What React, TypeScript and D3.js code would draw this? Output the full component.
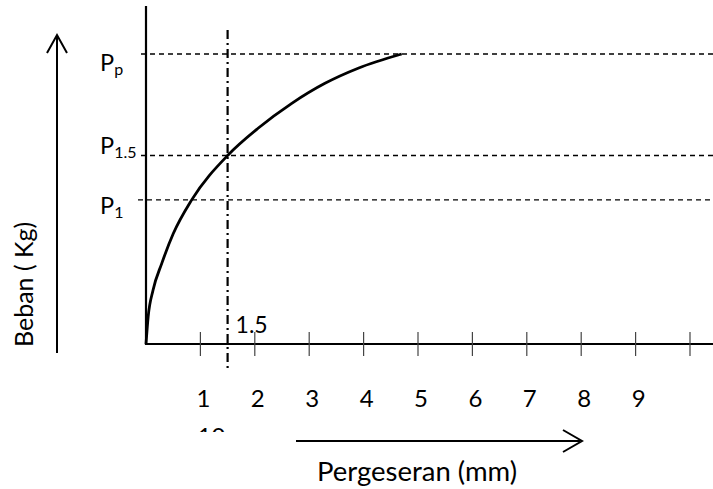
import React from "react";
import * as d3 from "d3";

// Data
const displacement = [0, 0.04, 0.13, 0.29, 0.5, 0.84, 1.51, 2.06, 2.68, 3.29, 3.9, 4.7];
const load = [0, 9.4, 18.6, 27.8, 38.0, 49.7, 65.2, 74.4, 83.0, 89.9, 95.1, 100];
const tickValues = [1, 2, 3, 4, 5, 6, 7, 8, 9, 10];
const tickLabels = ["1", "2", "3", "4", "5", "6", "7", "8", "9"];
const clippedLabel = "10";
const refLevels = [
  { main: "P", sub: "p", value: 100 },
  { main: "P", sub: "1.5", value: 65.0 },
  { main: "P", sub: "1", value: 49.7 },
];
const refX = 1.5;
const refXLabel = "1.5";
const xTitle = "Pergeseran (mm)";
const yTitle = "Beban ( Kg)";

const W = 713;
const H = 489;
const FONT = "Lato, 'Open Sans', sans-serif";

export default function App() {
  const x = d3.scaleLinear().domain([0, 10]).range([146, 690]);
  const y = d3.scaleLinear().domain([0, 100]).range([344, 54]);
  const pts = displacement.map((d, i) => [d, load[i]] as [number, number]);
  const line = d3
    .line<[number, number]>()
    .x((d) => x(d[0]))
    .y((d) => y(d[1]))
    .curve(d3.curveMonotoneX);

  const axisY = y(0);
  const axisX = x(0);

  return (
    <svg
      width={W}
      height={H}
      style={{ position: "absolute", left: 0, top: 0, background: "#fff" }}
      fontFamily={FONT}
    >
      <defs>
        <clipPath id="clipTen">
          <rect x={0} y={0} width={W} height={432} />
        </clipPath>
      </defs>
      <rect width={W} height={H} fill="#fff" />

      {/* reference dashed horizontal lines */}
      {refLevels.map((r, i) => (
        <line
          key={"h" + i}
          x1={axisX - 5 - (i === 2 ? 3 : 0)}
          x2={W}
          y1={y(r.value)}
          y2={y(r.value)}
          stroke="#000"
          strokeWidth={1.3}
          strokeDasharray="5 4"
        />
      ))}

      {/* dash-dot vertical line at 1.5 mm */}
      <line
        x1={x(refX)}
        x2={x(refX)}
        y1={30}
        y2={368}
        stroke="#000"
        strokeWidth={2.2}
        strokeDasharray="9 4 2 4"
      />

      {/* axes */}
      <line x1={axisX} x2={axisX} y1={6} y2={axisY + 1} stroke="#000" strokeWidth={2.2} />
      <line x1={axisX - 1} x2={W} y1={axisY} y2={axisY} stroke="#000" strokeWidth={2} />
      {tickValues.map((t) => (
        <line
          key={"t" + t}
          x1={x(t)}
          x2={x(t)}
          y1={axisY - 12}
          y2={axisY + 12}
          stroke="#444"
          strokeWidth={1.2}
        />
      ))}
      {tickLabels.map((l, i) => (
        <text
          key={"l" + i}
          x={x(tickValues[i]) + 3}
          y={407}
          textAnchor="middle"
          fontSize={24}
          fill="#000"
        >
          {l}
        </text>
      ))}
      <g clipPath="url(#clipTen)">
        <text x={x(1) + 11} y={445} textAnchor="middle" fontSize={24} fill="#000">
          {clippedLabel}
        </text>
      </g>

      {/* curve */}
      <path d={line(pts) || ""} fill="none" stroke="#000" strokeWidth={2.8} strokeLinejoin="round" />

      {/* 1.5 label */}
      <text x={x(refX) + 8} y={333} fontSize={23} fill="#000">
        {refXLabel}
      </text>

      {/* P labels */}
      {refLevels.map((r, i) => (
        <text key={"p" + i} x={100} y={y(r.value) + (i === 0 ? 17 : i === 1 ? -2 : 14)} fontSize={23.5} fill="#000">
          {r.main}
          <tspan fontSize={16} dy={4}>
            {r.sub}
          </tspan>
        </text>
      ))}

      {/* y arrow and title */}
      <line x1={57} x2={57} y1={353} y2={36} stroke="#000" strokeWidth={2} />
      <polyline points="47,53 57,35 67,53" fill="none" stroke="#000" strokeWidth={2} />
      <text transform="translate(33,347) rotate(-90)" fontSize={25} fill="#000">
        {yTitle}
      </text>

      {/* x arrow and title */}
      <line x1={296} x2={580} y1={441} y2={441} stroke="#000" strokeWidth={2.2} />
      <polyline points="563,430 582,441 563,452" fill="none" stroke="#000" strokeWidth={2} />
      <text x={317} y={481} fontSize={27.5} fill="#000">
        {xTitle}
      </text>
    </svg>
  );
}
